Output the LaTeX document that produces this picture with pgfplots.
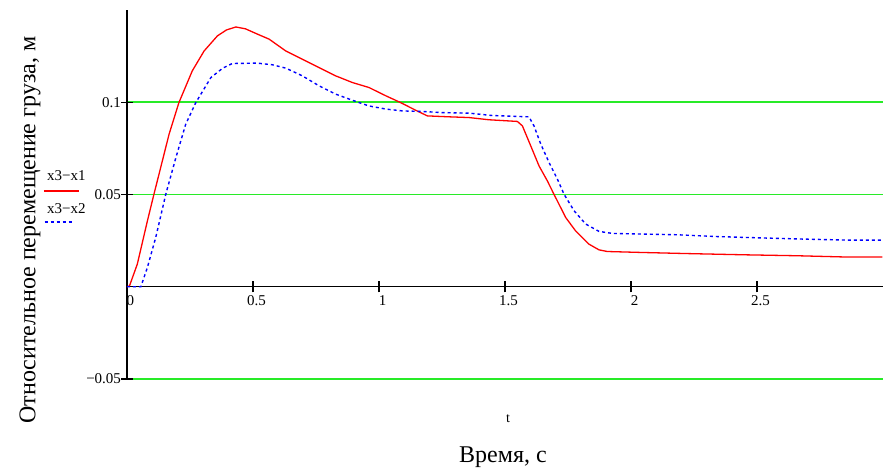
\documentclass[border=0pt]{standalone}
\usepackage{fontspec}
\setmainfont{Liberation Serif}
\usepackage{pgfplots}
\usepackage{pgfplotstable}
\pgfplotsset{compat=1.18}
\definecolor{gridgreen}{RGB}{40,235,40}
\pgfplotstableread{
t y
0 0
0.01 0.0005
0.041 0.0123
0.081 0.0357
0.107 0.0502
0.127 0.061
0.167 0.0827
0.206 0.0998
0.259 0.117
0.306 0.1278
0.359 0.136
0.395 0.1392
0.432 0.1408
0.470 0.1398
0.518 0.1369
0.564 0.1342
0.630 0.1278
0.696 0.1233
0.762 0.1188
0.828 0.1143
0.894 0.1107
0.960 0.108
1.027 0.1035
1.086 0.0998
1.145 0.0957
1.192 0.0926
1.278 0.0921
1.357 0.0917
1.437 0.0905
1.549 0.0896
1.569 0.0872
1.602 0.0764
1.635 0.0655
1.668 0.0574
1.694 0.0502
1.741 0.0375
1.78 0.0303
1.833 0.0231
1.873 0.02
1.906 0.0191
2.038 0.0186
2.217 0.018
2.455 0.0173
2.66 0.0168
2.858 0.0161
2.997 0.0161
}\redtable
\pgfplotstableread{
t y
0 0
0.055 0
0.081 0.0105
0.114 0.0267
0.154 0.0502
0.194 0.070
0.233 0.0881
0.273 0.0998
0.333 0.1134
0.380 0.1185
0.418 0.121
0.518 0.1212
0.577 0.1203
0.630 0.1185
0.696 0.1143
0.762 0.1089
0.828 0.1044
0.894 0.1011
0.960 0.098
1.027 0.0963
1.093 0.0953
1.172 0.095
1.251 0.0944
1.357 0.0941
1.45 0.0928
1.595 0.0921
1.615 0.0872
1.642 0.0773
1.675 0.0673
1.708 0.0583
1.734 0.0502
1.774 0.0412
1.82 0.034
1.873 0.03
1.926 0.0289
2.177 0.0282
2.343 0.0272
2.508 0.0265
2.693 0.0258
2.858 0.0253
2.997 0.0253
}\bluetable
\begin{document}
\begin{tikzpicture}
\useasboundingbox (-127pt,-89pt) rectangle (756pt,379pt);
\begin{axis}[
  at={(0pt,0pt)}, anchor=south west,
  scale only axis, width=756pt, height=369pt,
  xmin=0, xmax=3, ymin=-0.05, ymax=0.15,
  axis x line=middle, axis y line=left,
  axis line style={-, line width=1.1pt, black},
  xtick={0,0.5,1,1.5,2,2.5}, xticklabels={0,0.5,1,1.5,2,2.5},
  ytick={-0.05,0.05,0.1}, yticklabels={−0.05,0.05,0.1},
  tick align=center, major tick length=11pt,
  tick style={black, line width=1.1pt},
  hide obscured x ticks=false,
  ymajorgrids, grid style={gridgreen, line width=1.5pt},
  tick label style={font=\fontsize{15}{15}\selectfont},
  xticklabel style={xshift=3.5pt},
  yticklabel style={xshift=3pt},
  clip=false,
]
\addplot[red, line width=1.3pt] table[x=t,y=y] {\redtable};
\addplot[blue, line width=1.4pt, dash pattern=on 3pt off 3pt] table[x=t,y=y] {\bluetable};
\end{axis}
\node[rotate=90, font=\fontsize{24}{24}\selectfont] at (-97pt,149pt) {Относительное перемещение груза, м};
\node[font=\fontsize{24}{24}\selectfont] at (376pt,-78pt) {Время,  с};
\node[font=\fontsize{14}{14}\selectfont] at (381pt,-40pt) {t};
\node[font=\fontsize{15}{15}\selectfont] at (-60.7pt,203pt) {x3−x1};
\draw[red, line width=1.3pt] (-83pt,188pt) -- (-48pt,188pt);
\node[font=\fontsize{15}{15}\selectfont] at (-60.7pt,170pt) {x3−x2};
\draw[blue, line width=1.4pt, dash pattern=on 3pt off 3pt] (-82.3pt,157pt) -- (-53pt,157pt);
\end{tikzpicture}
\end{document}
